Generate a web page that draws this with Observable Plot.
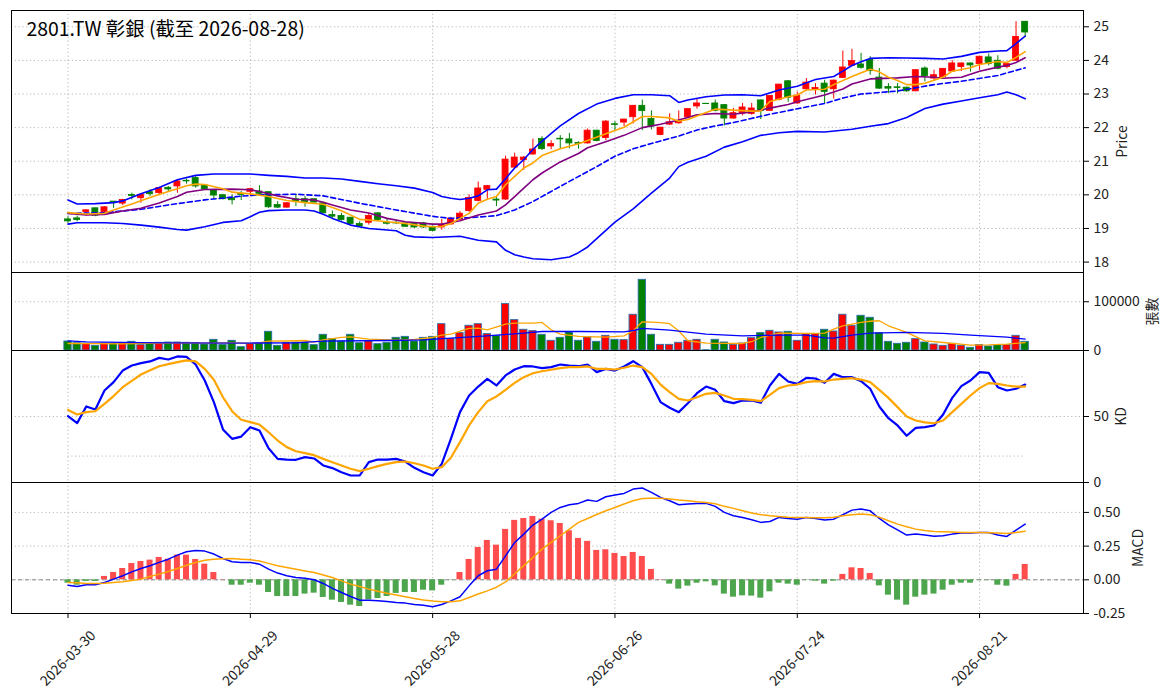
<!DOCTYPE html>
<html><head><meta charset="utf-8">
<script src="https://cdn.jsdelivr.net/npm/d3@7"></script>
<script src="https://cdn.jsdelivr.net/npm/@observablehq/plot@0.6"></script>
<style>
body{margin:0;background:#fff;}
#chart{position:relative;width:1171px;height:698px;overflow:hidden;}
#chart svg{position:absolute;left:0;}
</style></head><body><div id="chart"></div>
<script>
// ---------- data ----------
const title = "2801.TW 彰銀 (截至 2026-08-28)";
const tickIdx = [0, 20, 40, 60, 80, 100];
const tickLabels = ["2026-03-30", "2026-04-29", "2026-05-28", "2026-06-26", "2026-07-24", "2026-08-21"];

const opens = [19.27,19.30,19.49,19.60,19.49,19.80,19.74,20.00,19.90,20.08,
20.05,20.21,20.25,20.42,20.50,20.28,20.15,19.99,19.90,20.03,
20.09,20.10,20.08,19.70,19.62,19.87,19.87,19.87,19.75,19.40,
19.37,19.32,19.13,19.17,19.45,19.17,19.17,19.15,19.13,19.15,
19.05,19.03,19.12,19.26,19.52,19.82,20.15,19.86,19.86,20.81,
21.03,21.20,21.66,21.44,21.67,21.65,21.54,21.53,21.91,21.69,
22.10,22.15,22.31,22.65,22.26,21.78,22.09,22.13,22.31,22.63,
22.71,22.72,22.67,22.27,22.42,22.41,22.81,22.50,22.82,23.38,
22.72,23.14,23.12,23.31,23.14,23.48,23.84,23.88,24.01,23.49,
23.21,23.20,23.19,23.08,23.76,23.46,23.50,23.67,23.80,23.91,
23.89,24.09,23.99,23.80,23.99,25.15];
const highs = [19.35,19.37,19.55,19.60,19.65,19.80,19.87,20.05,20.02,20.15,
20.22,20.25,20.42,20.47,20.57,20.30,20.15,20.00,20.00,20.10,
20.20,20.27,20.08,19.80,19.77,20.00,19.95,19.88,19.78,19.52,
19.45,19.33,19.20,19.45,19.47,19.30,19.25,19.17,19.15,19.18,
19.08,19.27,19.33,19.50,20.00,20.38,20.28,19.96,21.15,21.24,
21.14,21.66,21.73,21.61,21.76,21.83,21.58,21.96,21.92,22.21,
22.18,22.25,22.66,22.82,22.50,22.00,22.41,22.50,22.56,22.87,
22.71,22.82,22.68,22.57,22.72,22.72,22.82,22.95,23.29,23.40,
23.06,23.46,23.31,23.41,23.41,24.28,24.33,24.21,24.11,23.76,
23.31,23.31,23.20,23.72,23.81,23.71,23.76,23.99,23.92,23.92,
24.12,24.19,24.14,23.90,25.15,25.16];
const lows = [19.15,19.20,19.37,19.35,19.45,19.60,19.68,19.85,19.75,19.95,
20.00,20.10,20.05,20.32,20.20,20.15,19.87,19.85,19.70,19.83,
19.95,20.00,19.60,19.60,19.60,19.65,19.63,19.75,19.45,19.30,
19.22,19.10,19.03,19.10,19.22,19.10,19.12,19.03,19.00,19.00,
18.90,18.95,19.10,19.24,19.48,19.79,19.87,19.65,19.84,20.79,
20.73,21.18,21.32,21.34,21.36,21.37,21.36,21.51,21.58,21.61,
21.91,22.03,22.11,21.91,21.93,21.76,22.06,22.10,22.30,22.55,
22.69,22.47,22.05,22.25,22.35,22.37,22.24,22.48,22.80,22.75,
22.69,23.11,22.97,22.69,22.85,23.46,23.81,23.74,23.56,23.14,
23.01,23.01,23.05,23.07,23.36,23.41,23.48,23.65,23.67,23.65,
23.70,23.84,23.72,23.75,23.97,24.68];
const closes = [19.21,19.25,19.54,19.38,19.63,19.76,19.85,19.97,20.00,20.02,
20.20,20.16,20.40,20.40,20.25,20.17,19.98,19.87,19.84,20.00,
20.17,20.03,19.63,19.62,19.75,19.80,19.77,19.77,19.45,19.35,
19.25,19.13,19.06,19.37,19.25,19.14,19.15,19.05,19.03,19.03,
18.93,19.10,19.29,19.44,19.91,20.19,20.26,19.83,21.05,21.11,
21.11,21.35,21.36,21.51,21.65,21.53,21.52,21.91,21.60,22.18,
22.08,22.24,22.65,22.49,22.03,22.00,22.16,22.19,22.55,22.72,
22.70,22.50,22.27,22.43,22.60,22.57,22.49,22.94,23.28,22.89,
22.95,23.34,23.18,23.06,23.40,23.79,23.98,23.78,23.68,23.16,
23.16,23.18,23.08,23.71,23.53,23.56,23.75,23.91,23.91,23.85,
24.11,23.89,23.75,23.89,24.70,24.83];
const volumes = [18500,15000,13700,9600,14400,14400,14400,17800,11000,15000,
15800,16400,16400,15800,15000,12300,21900,11600,19900,6800,
13700,14400,38400,9600,15000,16400,16400,11000,32200,23300,
18500,32200,15000,18500,13000,15800,26000,28000,18500,26000,
28000,54000,23300,35600,50700,54000,33600,30100,95200,62300,
42500,39700,32200,19900,26000,37000,19900,26700,17800,30100,
21900,21200,73300,145000,32200,11600,11600,15800,19900,21900,
500,21900,16400,11600,14400,25300,35600,40400,37000,38400,
19900,33600,33600,42500,39000,73300,50700,71200,67100,35600,
17800,13700,15800,23300,16400,12300,9600,13700,9600,5500,
11000,8200,11000,11000,30100,17800];

// price overlays: [day index, value]
const bbUpper = [[0,19.85],[1,19.73],[3,19.74],[5,19.77],[6,19.82],[8,20.03],[10,20.22],[12,20.45],[14,20.58],[16,20.62],[18,20.62],[20,20.62],[22,20.58],[24,20.55],[26,20.5],[28,20.5],[30,20.47],[32,20.4],[34,20.33],[36,20.27],[38,20.2],[40,20.07],[41,19.95],[42,19.9],[43,19.86],[44,19.9],[45,19.97],[46,20.15],[47,20.17],[48,20.48],[49,20.8],[50,21.05],[51,21.35],[52,21.6],[54,22.05],[56,22.42],[58,22.7],[60,22.87],[62,22.98],[64,22.98],[66,22.95],[67,22.75],[68,22.82],[70,22.92],[72,22.97],[74,22.98],[76,22.95],[78,23.12],[80,23.23],[82,23.43],[84,23.52],[85,23.68],[86,23.85],[87,23.96],[88,24.06],[90,24.08],[92,24.07],[94,24.06],[96,24.04],[98,24.12],[100,24.24],[102,24.28],[103,24.29],[104,24.5],[105,24.72]];
const bbLower = [[0,19.13],[1,19.17],[4,19.17],[6,19.15],[8,19.1],[10,19.04],[12,18.97],[13,18.95],[15,19.05],[17,19.18],[19,19.23],[20,19.35],[21,19.48],[22,19.53],[24,19.55],[26,19.55],[27,19.52],[28,19.42],[29,19.3],[31,19.1],[33,19.0],[36,18.93],[37,18.8],[38,18.75],[40,18.73],[43,18.77],[45,18.65],[47,18.6],[48,18.35],[49,18.22],[50,18.15],[51,18.1],[53,18.07],[55,18.15],[56,18.28],[57,18.45],[58,18.7],[60,19.19],[62,19.58],[64,20.05],[66,20.5],[67,20.84],[68,20.97],[70,21.15],[72,21.42],[74,21.58],[76,21.77],[78,21.85],[80,21.89],[83,21.87],[86,21.95],[88,22.04],[90,22.12],[92,22.3],[94,22.57],[96,22.7],[98,22.79],[100,22.89],[102,22.98],[103,23.06],[104,22.98],[105,22.86]];
const maPurple = [[0,19.45],[2,19.4],[4,19.42],[6,19.52],[8,19.6],[10,19.76],[12,19.95],[13,20.08],[15,20.16],[18,20.17],[20,20.15],[21,20.1],[23,19.97],[25,19.87],[27,19.85],[28,19.78],[29,19.7],[31,19.55],[33,19.46],[35,19.3],[37,19.2],[40,19.13],[41,19.13],[43,19.23],[45,19.4],[47,19.52],[48,19.7],[49,19.95],[50,20.2],[51,20.45],[52,20.65],[54,20.98],[56,21.23],[57,21.4],[59,21.58],[61,21.77],[63,22.0],[65,22.1],[67,22.23],[69,22.38],[71,22.42],[73,22.4],[75,22.47],[77,22.58],[79,22.69],[80,22.77],[83,22.97],[85,23.15],[86,23.3],[88,23.45],[91,23.48],[93,23.52],[95,23.5],[96,23.47],[98,23.5],[100,23.68],[102,23.8],[103,23.85],[104,23.94],[105,24.08]];
const maOrange = [[0,19.47],[2,19.43],[4,19.45],[5,19.55],[7,19.73],[9,19.92],[11,20.1],[12,20.18],[13,20.27],[14,20.32],[15,20.31],[17,20.18],[18,20.08],[20,20.03],[22,19.95],[24,19.83],[26,19.77],[28,19.72],[30,19.53],[32,19.27],[33,19.25],[35,19.2],[37,19.15],[39,19.07],[40,19.05],[41,19.06],[42,19.15],[43,19.3],[44,19.45],[45,19.75],[46,19.87],[47,19.95],[48,20.3],[49,20.55],[50,20.8],[51,20.95],[52,21.17],[54,21.37],[56,21.52],[57,21.62],[59,21.82],[61,22.01],[63,22.33],[64,22.33],[66,22.29],[67,22.19],[68,22.24],[70,22.45],[71,22.55],[73,22.52],[75,22.49],[76,22.5],[77,22.78],[79,22.92],[80,22.97],[81,23.12],[83,23.14],[84,23.28],[86,23.52],[88,23.74],[89,23.66],[90,23.5],[91,23.4],[92,23.28],[93,23.28],[94,23.32],[96,23.5],[97,23.68],[99,23.78],[100,23.88],[102,23.97],[103,23.94],[104,24.09],[105,24.26]];
const maDashed = [[0,19.45],[4,19.47],[8,19.57],[11,19.7],[15,19.85],[19,19.96],[21,20.0],[25,20.02],[28,19.97],[32,19.75],[36,19.55],[40,19.36],[42,19.3],[44,19.32],[47,19.38],[49,19.55],[51,19.8],[53,20.1],[55,20.4],[58,20.84],[60,21.15],[62,21.37],[64,21.53],[67,21.75],[69,21.93],[71,22.05],[73,22.15],[77,22.4],[80,22.56],[83,22.72],[85,22.88],[87,23.0],[91,23.09],[95,23.28],[98,23.38],[102,23.55],[105,23.78]];

// volume moving averages: [day index, 張數]
const volMaOrange = [[0,14400],[3,14000],[6,13500],[9,14500],[12,15200],[15,15000],[18,16000],[20,14800],[21,15500],[22,19200],[24,19500],[26,20500],[27,17000],[28,22000],[30,27000],[31,28000],[33,23300],[36,21200],[38,23000],[40,26700],[41,31500],[42,33600],[44,45200],[45,46000],[46,42500],[48,54100],[49,56200],[51,56200],[52,57500],[53,42500],[54,33600],[56,28800],[59,27400],[61,30100],[62,40400],[63,58900],[64,58000],[65,57000],[66,55000],[67,40000],[68,20000],[70,15000],[74,14400],[75,18000],[76,26700],[78,35600],[81,35000],[83,35600],[84,43800],[85,50700],[87,57500],[88,60000],[89,61000],[90,50700],[92,37000],[94,19900],[96,16400],[99,11000],[101,11500],[103,13000],[105,16400]];
const volMaBlue = [[0,19900],[2,17800],[6,16500],[10,15800],[20,15300],[25,15800],[28,19200],[35,20500],[39,21900],[42,25300],[46,30100],[50,35600],[52,39000],[56,39000],[61,38400],[62,41000],[63,45200],[66,41800],[70,33600],[74,30100],[78,31500],[81,31500],[83,26000],[84,25300],[86,31500],[88,35600],[92,37000],[96,35000],[99,31500],[103,27400],[105,23300]];

const kValues = [50.3,45,57.6,55.3,69.7,76,84.8,88.6,90.4,91.7,
94.4,93.2,95.5,95.2,89.4,77.3,60.9,40.2,33.1,34.8,
41.9,39.4,26,17.9,17.4,17.2,19.2,18.2,12.9,10.9,
7.8,5.3,5.3,15.4,17.4,17.4,17.9,15.9,11.1,7.8,
5.3,14.1,33.1,53.3,65.9,72.7,78.5,73.5,81.1,85.6,
88.1,87.9,86.7,87.4,89.4,88.6,88.1,89.4,83.6,86.1,
84.8,87.9,91.9,87.4,74.7,60.9,56.6,53.3,60.1,67.7,
72.7,70.2,61.6,60.1,62.1,62.1,60.4,73.5,82.3,76.5,
74.7,79.3,78.8,75.5,82.3,79.8,79.8,76.8,71,57.6,
48.7,43.2,35.4,41.4,41.9,43.2,51.5,64.1,73,77.3,
83.6,83.1,72.2,69.7,71,74.2];
const dValues = [55,51.5,53.3,54,59.6,65.5,72.2,77,81.8,85,
88.1,89.7,91.2,92.5,91.7,86.1,77.8,64.6,54,47.5,
45.7,43.9,38.1,31.8,26.8,23.7,22.2,20.7,17.9,15.4,
12.9,10.4,8.6,10.4,12.4,14.1,15.4,15.9,14.6,12.9,
10.4,11.6,18.7,30.6,43.2,53.3,61.6,65.2,70.2,75.5,
79.8,82.8,84.3,85.4,86.6,87.4,87.4,87.9,86.1,86.1,
85.6,86.9,88.6,87.4,82.3,74.2,68.4,63.4,62.1,64.6,
67.2,67.9,65.9,63.4,63.1,62.6,61.6,66.4,71.5,73.5,
74.2,76,76.8,76.5,78,78.5,79,78,76,70.2,
64.1,57.1,50,47,45.5,44.9,47,53.3,59.6,65.9,
71.5,75.3,74.7,73.5,72.7,72.7];
const kdLevels = [20, 80];

const macdHist = [-0.025,-0.04,-0.012,-0.012,0.025,0.054,0.084,0.121,0.136,0.146,
0.166,0.153,0.183,0.183,0.151,0.116,0.054,0.002,-0.04,-0.04,
-0.025,-0.04,-0.094,-0.124,-0.124,-0.124,-0.106,-0.099,-0.131,-0.151,
-0.168,-0.188,-0.198,-0.149,-0.139,-0.124,-0.101,-0.094,-0.094,-0.077,
-0.082,-0.04,-0.002,0.054,0.151,0.24,0.292,0.257,0.374,0.441,
0.455,0.47,0.45,0.438,0.418,0.364,0.307,0.285,0.218,0.223,
0.196,0.173,0.203,0.173,0.077,0.002,-0.032,-0.069,-0.047,-0.025,
-0.015,-0.045,-0.106,-0.129,-0.119,-0.121,-0.136,-0.089,-0.025,-0.032,
-0.04,-0.003,-0.01,-0.032,-0.01,0.04,0.089,0.084,0.047,-0.045,
-0.114,-0.151,-0.188,-0.129,-0.114,-0.106,-0.077,-0.04,-0.025,-0.025,
-0.003,-0.003,-0.04,-0.047,0.04,0.114];
const macdDif = [-0.04,-0.05,-0.037,-0.037,-0.02,0.005,0.03,0.059,0.084,0.104,
0.129,0.153,0.183,0.208,0.218,0.213,0.191,0.158,0.134,0.129,
0.129,0.116,0.079,0.05,0.03,0.017,0.012,0.0,-0.027,-0.064,
-0.094,-0.124,-0.151,-0.151,-0.156,-0.161,-0.168,-0.173,-0.183,-0.188,
-0.2,-0.183,-0.156,-0.126,-0.045,0.03,0.067,0.079,0.178,0.277,
0.339,0.406,0.45,0.5,0.537,0.557,0.567,0.592,0.582,0.616,
0.629,0.641,0.673,0.681,0.649,0.611,0.587,0.557,0.562,0.567,
0.567,0.545,0.5,0.475,0.463,0.446,0.426,0.433,0.463,0.455,
0.45,0.463,0.455,0.443,0.45,0.483,0.517,0.525,0.512,0.455,
0.408,0.371,0.332,0.339,0.332,0.324,0.327,0.339,0.347,0.347,
0.351,0.351,0.332,0.322,0.369,0.413];
const macdDea = [-0.02,-0.022,-0.027,-0.027,-0.025,-0.02,-0.015,-0.005,0.005,0.025,
0.042,0.062,0.084,0.108,0.129,0.145,0.153,0.157,0.158,0.153,
0.149,0.139,0.122,0.104,0.092,0.079,0.066,0.054,0.035,0.017,
-0.008,-0.032,-0.05,-0.069,-0.085,-0.099,-0.113,-0.126,-0.138,-0.149,
-0.157,-0.163,-0.163,-0.156,-0.131,-0.105,-0.082,-0.055,-0.015,0.045,
0.105,0.165,0.228,0.277,0.327,0.376,0.426,0.455,0.485,0.512,
0.537,0.562,0.587,0.604,0.606,0.606,0.599,0.592,0.587,0.579,
0.574,0.564,0.545,0.53,0.512,0.495,0.483,0.475,0.47,0.465,
0.463,0.463,0.46,0.46,0.465,0.475,0.483,0.488,0.483,0.465,
0.438,0.413,0.394,0.376,0.366,0.359,0.356,0.354,0.351,0.351,
0.351,0.349,0.347,0.344,0.351,0.361];

const priceTicks = [18,19,20,21,22,23,24,25];
const volTicks = [0, 100000];
const kdTicks = [0, 50];
const macdTicks = [-0.25, 0, 0.25, 0.5];

// ---------- tables built from the arrays ----------
const days = opens.map((o, i) => ({
  i, open: o, high: highs[i], low: lows[i], close: closes[i], vol: volumes[i],
  k: kValues[i], d: dValues[i], hist: macdHist[i], dif: macdDif[i], dea: macdDea[i],
  up: closes[i] >= o
}));
const firstDay = days[0].i, lastDay = days[days.length - 1].i;

// ---------- style ----------
const UP = "#ff0000", DOWN = "#008000";
const HUP = "#ff4d4d", HDOWN = "#4da64d";
const W = 1171, ML = 11, MR = 88;
const FS = 13.9;
const FONT = '"Noto Sans CJK TC", "Noto Sans", sans-serif';
const gridStyle = {stroke: "#b0b0b0", strokeOpacity: 1, strokeWidth: 0.9, strokeDasharray: "1.2,2.6"};
const xScale = {domain: [-6.2, 111.4], axis: null};

function panel({top, height, mt, mb, yDomain, yTicks, yFormat, label, labelDx, marks, bottomAxis}) {
  const all = [
    Plot.gridX(tickIdx, gridStyle),
    Plot.gridY(yTicks, gridStyle),
    ...marks,
    Plot.frame({stroke: "black", strokeWidth: 1}),
    Plot.axisY(yTicks, {anchor: "right", tickSize: 5, tickPadding: 5, tickFormat: yFormat, label: null, fontSize: FS, stroke: "black"}),
    Plot.text([label], {frameAnchor: "right", text: d => d, rotate: -90, dx: labelDx, textAnchor: "middle", lineAnchor: "middle", fontSize: FS, fill: "#222"})
  ];
  if (bottomAxis) {
    all.push(Plot.axisX(tickIdx, {anchor: "bottom", tickSize: 5, tickFormat: () => "", label: null, stroke: "black"}));
    all.push(Plot.text(tickIdx, {x: d => d, text: (d, j) => tickLabels[j], frameAnchor: "bottom", rotate: -45, dy: 45, textAnchor: "middle", lineAnchor: "middle", fontSize: FS, fill: "#222"}));
  }
  const svg = Plot.plot({
    width: W, height, marginLeft: ML, marginRight: MR, marginTop: mt, marginBottom: mb,
    x: xScale,
    y: {domain: yDomain, axis: null},
    color: {type: "identity"},
    style: {fontFamily: FONT, fontSize: FS + "px", background: "transparent", color: "#222", overflow: "visible"},
    marks: all
  });
  svg.style.top = top + "px";
  document.getElementById("chart").appendChild(svg);
}

const candleColor = d => d.up ? UP : DOWN;

// price
panel({
  top: 0, height: 273, mt: 10, mb: 1, yDomain: [17.69, 25.485], yTicks: priceTicks,
  yFormat: d => String(d), label: "Price", labelDx: 39,
  marks: [
    Plot.ruleX(days, {x: "i", y1: "low", y2: "high", stroke: candleColor, strokeWidth: 1}),
    Plot.rect(days, {x1: d => d.i - 0.33, x2: d => d.i + 0.33, y1: "open", y2: "close", fill: candleColor, stroke: candleColor, strokeWidth: 0.8}),
    Plot.line(bbUpper, {x: d => d[0], y: d => d[1], stroke: "#0000ff", strokeWidth: 1.6}),
    Plot.line(bbLower, {x: d => d[0], y: d => d[1], stroke: "#0000ff", strokeWidth: 1.6}),
    Plot.line(maDashed, {x: d => d[0], y: d => d[1], stroke: "#0000ff", strokeWidth: 1.6, strokeDasharray: "5,3"}),
    Plot.line(maPurple, {x: d => d[0], y: d => d[1], stroke: "#800080", strokeWidth: 1.6}),
    Plot.line(maOrange, {x: d => d[0], y: d => d[1], stroke: "#ffa500", strokeWidth: 1.6}),
    Plot.text([title], {frameAnchor: "top-left", text: d => d, dx: 15, dy: 12, textAnchor: "start", lineAnchor: "top", fontSize: 19.4, fontWeight: "normal", fill: "#000"})
  ]
});

// volume
panel({
  top: 271, height: 80, mt: 1, mb: 1, yDomain: [0, 160000], yTicks: volTicks,
  yFormat: d => String(d), label: "張數", labelDx: 69,
  marks: [
    Plot.rect(days, {x1: d => d.i - 0.4, x2: d => d.i + 0.4, y1: 0, y2: "vol", fill: candleColor, stroke: "#2b6ea8", strokeWidth: 0.9}),
    Plot.line(volMaOrange, {x: d => d[0], y: d => d[1], stroke: "#ffa500", strokeWidth: 1.3}),
    Plot.line(volMaBlue, {x: d => d[0], y: d => d[1], stroke: "#0000ff", strokeWidth: 1.3})
  ]
});

// KD
panel({
  top: 349, height: 134, mt: 1, mb: 1, yDomain: [0, 100], yTicks: kdTicks,
  yFormat: d => String(d), label: "KD", labelDx: 38,
  marks: [
    Plot.ruleY(kdLevels, {x1: firstDay, x2: lastDay, ...gridStyle}),
    Plot.line(days, {x: "i", y: "k", stroke: "#0000ff", strokeWidth: 2.2}),
    Plot.line(days, {x: "i", y: "d", stroke: "#ffa500", strokeWidth: 2.2})
  ]
});

// MACD
panel({
  top: 481, height: 217, mt: 1, mb: 85, yDomain: [-0.25, 0.722], yTicks: macdTicks,
  yFormat: d => d.toFixed(2), label: "MACD", labelDx: 55, bottomAxis: true,
  marks: [
    Plot.ruleY([0], {stroke: "#888", strokeWidth: 1, strokeDasharray: "4,3"}),
    Plot.rect(days, {x1: d => d.i - 0.33, x2: d => d.i + 0.33, y1: 0, y2: "hist", fill: d => d.hist >= 0 ? HUP : HDOWN}),
    Plot.line(days, {x: "i", y: "dif", stroke: "#0000ff", strokeWidth: 1.5}),
    Plot.line(days, {x: "i", y: "dea", stroke: "#ffa500", strokeWidth: 1.5})
  ]
});
</script></body></html>
